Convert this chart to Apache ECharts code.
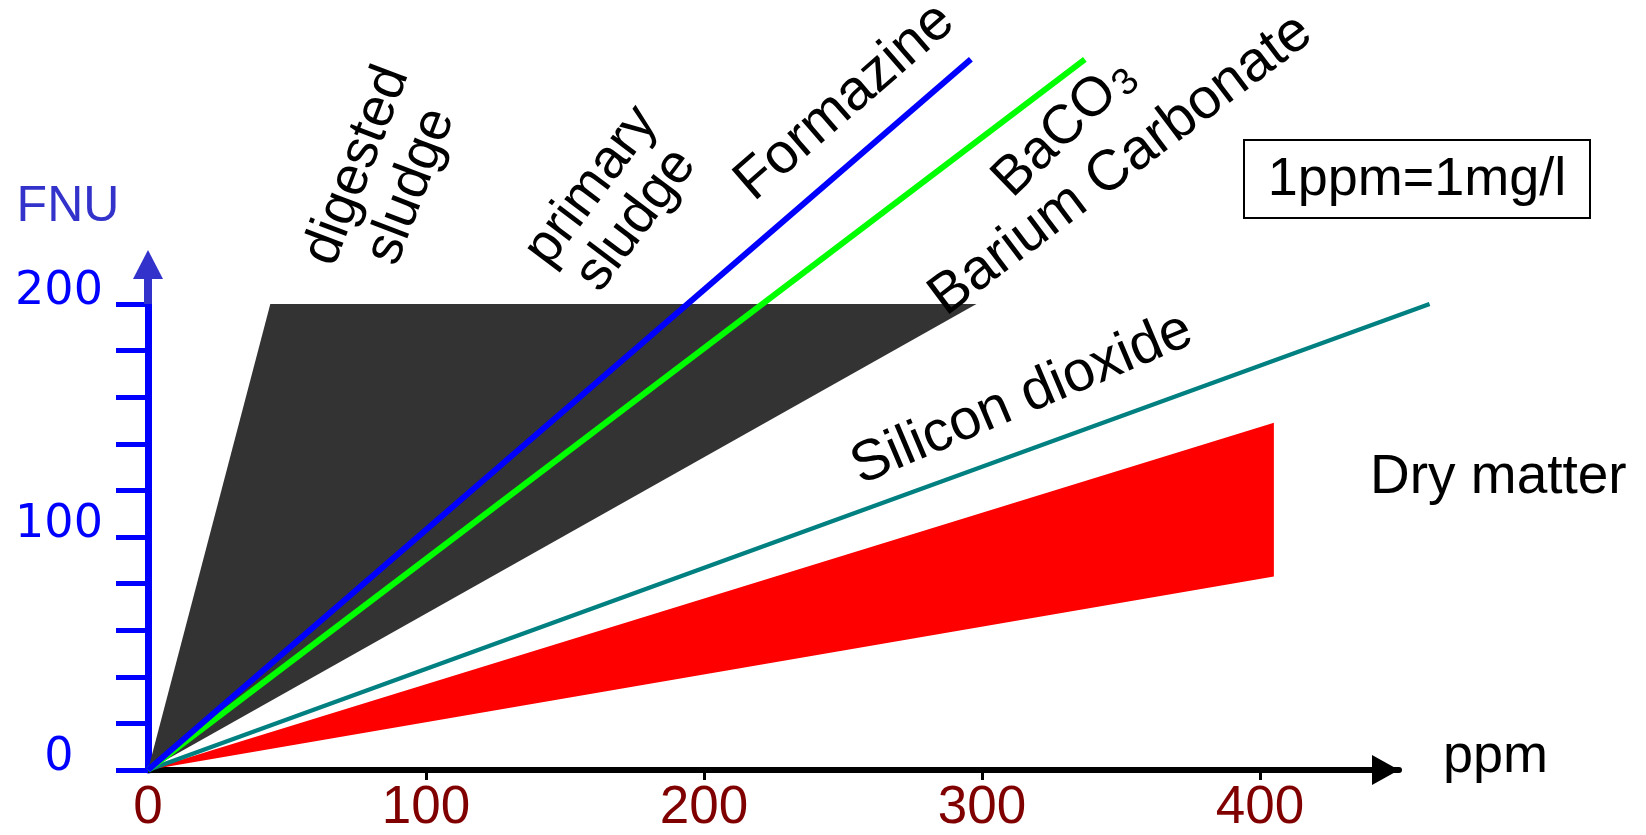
<!DOCTYPE html>
<html>
<head>
<meta charset="utf-8">
<script src="https://cdn.jsdelivr.net/npm/echarts@6/dist/echarts.min.js"></script>
<style>
html,body{margin:0;padding:0;background:#fff;}
#chart{width:1646px;height:835px;}
</style>
</head>
<body>
<div id="chart"></div>
<script>
// ---- data ----
const xTickValues = [0, 100, 200, 300, 400];
const yTickValues = [0, 20, 40, 60, 80, 100, 120, 140, 160, 180, 200];
const yLabelValues = [0, 100, 200];
const formazine = [[0, 0], [296, 305]];
const baco3 = [[0, 0], [337, 305]];
const siliconDioxide = [[0, 0], [461, 200]];
const sludgeX = [0, 44, 298];
const sludgeY = [0, 200, 200];
const dryMatterX = [0, 405, 405];
const dryMatterY = [0, 149, 83];

const SANS = '"Liberation Sans", Arial, Helvetica, sans-serif';

function polygonSeries(name, xs, ys, color, z) {
  return {
    type: 'custom', name: name, coordinateSystem: 'cartesian2d', clip: false, z: z, silent: true,
    data: xs.map((x, i) => [x, ys[i]]),
    encode: { x: 0, y: 1 },
    renderItem: function (params, api) {
      if (params.dataIndex !== 0) return null;
      const pts = xs.map((x, i) => api.coord([x, ys[i]]));
      return { type: 'polygon', shape: { points: pts }, style: { fill: color } };
    }
  };
}
function lineSeries(name, data, color, width, z) {
  return {
    type: 'custom', name: name, coordinateSystem: 'cartesian2d', clip: false, z: z, silent: true,
    data: data,
    encode: { x: 0, y: 1 },
    renderItem: function (params, api) {
      if (params.dataIndex !== 0) return null;
      const pts = data.map(p => api.coord(p));
      return { type: 'polyline', shape: { points: pts }, style: { stroke: color, lineWidth: width, fill: null } };
    }
  };
}

const chart = echarts.init(document.getElementById('chart'), null, { renderer: 'canvas' });
chart.setOption({
  animation: false,
  backgroundColor: '#ffffff',
  grid: { left: 148, right: 247, top: 304, bottom: 65, containLabel: false },
  xAxis: {
    type: 'value', min: 0, max: 450, interval: 100,
    splitLine: { show: false },
    axisLine: { show: true, lineStyle: { color: '#000', width: 6 } },
    axisTick: { show: true, customValues: [100, 200, 300, 400], length: 10, lineStyle: { color: '#000', width: 3 } },
    axisLabel: {
      customValues: xTickValues, color: '#800000', fontFamily: SANS, fontSize: 53, margin: 12,
      formatter: v => String(v)
    }
  },
  yAxis: {
    type: 'value', min: 0, max: 200, interval: 20,
    splitLine: { show: false },
    axisLine: { show: true, lineStyle: { color: '#0000ff', width: 7 } },
    axisTick: { show: true, customValues: yTickValues, length: 32, lineStyle: { color: '#0000ff', width: 5 } },
    axisLabel: {
      customValues: yLabelValues, color: '#0000ff', fontFamily: '"DejaVu Sans", sans-serif', fontSize: 46,
      align: 'center', verticalAlign: 'bottom', lineHeight: 23, margin: 89,
      formatter: v => String(v)
    }
  },
  series: [
    polygonSeries('sludge', sludgeX, sludgeY, '#333333', 1),
    polygonSeries('Dry matter', dryMatterX, dryMatterY, '#ff0000', 2),
    lineSeries('Silicon dioxide', siliconDioxide, '#008080', 4.5, 3),
    lineSeries('BaCO3', baco3, '#00ff00', 6, 4),
    lineSeries('Formazine', formazine, '#0000ff', 6, 5)
  ]
});

const yTop = chart.convertToPixel({ gridIndex: 0 }, [0, 200]);
const xEnd = chart.convertToPixel({ gridIndex: 0 }, [450, 0]);
const deg = Math.PI / 180;
function label(text, x, y, rotDeg, size, lineHeight) {
  return {
    type: 'text', x: x, y: y, rotation: rotDeg * deg, z: 20,
    style: { text: text, fill: '#000', font: size + 'px ' + SANS, align: 'center', verticalAlign: 'middle', lineHeight: lineHeight || size }
  };
}
chart.setOption({
  graphic: [
    // y arrow
    { type: 'rect', z: 10, shape: { x: yTop[0] - 4, y: yTop[1] - 28, width: 8, height: 28 }, style: { fill: '#3333cc' } },
    { type: 'polygon', z: 10, shape: { points: [[yTop[0] - 15, yTop[1] - 25], [yTop[0] + 15, yTop[1] - 25], [yTop[0], yTop[1] - 54]] }, style: { fill: '#3333cc' } },
    // x arrow
    { type: 'polygon', z: 10, shape: { points: [[xEnd[0] - 27, xEnd[1] - 15], [xEnd[0] - 27, xEnd[1] + 15], [xEnd[0], xEnd[1]]] }, style: { fill: '#000' } },
    // axis names
    { type: 'text', x: 68, y: 207, z: 20, style: { text: 'FNU', fill: '#3333cc', font: '50px ' + SANS, align: 'center', verticalAlign: 'middle' } },
    { type: 'text', x: 1443, y: 757, z: 20, style: { text: 'ppm', fill: '#000', font: '54px ' + SANS, align: 'left', verticalAlign: 'middle' } },
    // annotations
    label('digested\nsludge', 384, 176, 69, 55, 58),
    label('primary\nsludge', 614, 203, 53, 55, 56),
    label('Formazine', 845, 102, 41, 57),
    {
      type: 'text', x: 1064, y: 128, rotation: 44 * deg, z: 20,
      style: {
        text: '{a|BaCO}{s|3}', align: 'center', verticalAlign: 'middle',
        rich: {
          a: { fontFamily: SANS, fontSize: 55, fill: '#000', lineHeight: 60, verticalAlign: 'middle' },
          s: { fontFamily: SANS, fontSize: 38, fill: '#000', lineHeight: 10, verticalAlign: 'bottom', padding: [0, 0, 0, 2] }
        }
      }
    },
    label('Barium Carbonate', 1121, 165, 37, 57),
    label('Silicon dioxide', 1022, 399, 23, 57),
    { type: 'text', x: 1370, y: 478, z: 20, style: { text: 'Dry matter', fill: '#000', font: '55px ' + SANS, align: 'left', verticalAlign: 'middle' } },
    // unit box
    { type: 'rect', z: 20, shape: { x: 1244, y: 140, width: 346, height: 78 }, style: { fill: '#fff', stroke: '#000', lineWidth: 2 } },
    { type: 'text', x: 1417, y: 180, z: 21, style: { text: '1ppm=1mg/l', fill: '#000', font: '54px ' + SANS, align: 'center', verticalAlign: 'middle' } }
  ]
});
</script>
</body>
</html>
